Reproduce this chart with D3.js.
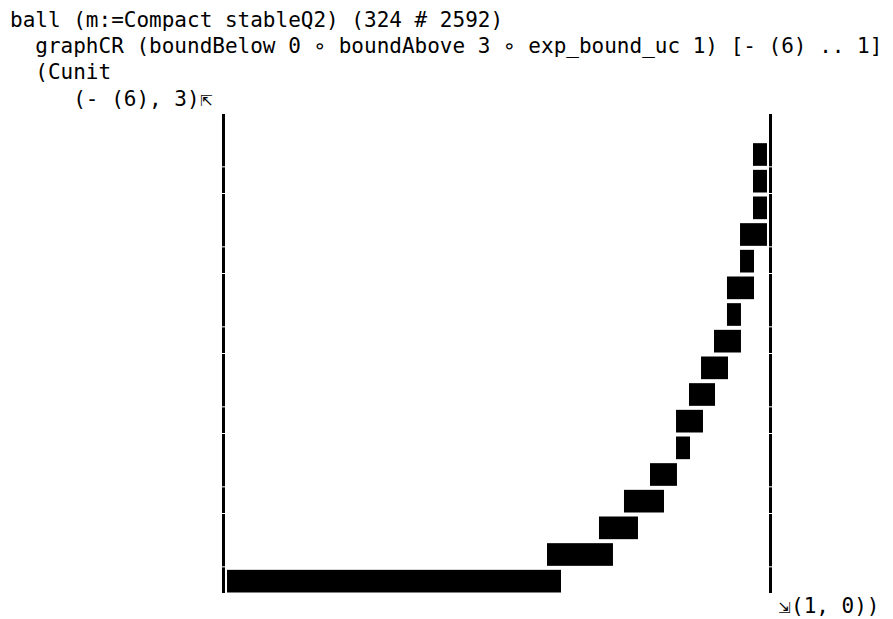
<!DOCTYPE html>
<html>
<head>
<meta charset="utf-8">
<script src="https://cdn.jsdelivr.net/npm/d3@7"></script>
<style>
  body { margin: 0; background: #fff; }
  text { font-family: "DejaVu Sans Mono", monospace; font-size: 21px; fill: #000; white-space: pre; }
  tspan.arrow { font-family: "DejaVu Sans", sans-serif; font-size: 15px; fill: #000; }
</style>
</head>
<body>
<div id="chart"></div>
<script>
// Header lines of the expression that produced the graph
const headerLines = [
    "ball (m:=Compact stableQ2) (324 # 2592)",
    "  graphCR (boundBelow 0 \u2218 boundAbove 3 \u2218 exp_bound_uc 1) [- (6) .. 1]",
    "  (Cunit",
    "     (- (6), 3)"
];
const topArrow = "\u21F1";
const cornerArrow = "\u21F2";
const cornerLabel = "(1, 0))";

// Plot domain
const xDomain = [-6, 1];
const yDomain = [0, 3];

// Rows of the enclosure (bottom to top): y interval and x interval
const rowYLo = [0, 1/6, 2/6, 3/6, 4/6, 5/6, 1, 7/6, 8/6, 9/6, 10/6, 11/6, 2, 13/6, 14/6, 15/6, 16/6];
const rowYHi = [1/6, 2/6, 3/6, 4/6, 5/6, 1, 7/6, 8/6, 9/6, 10/6, 11/6, 2, 13/6, 14/6, 15/6, 16/6, 17/6];
const rowXLo = [-5.955, -1.860, -1.195, -0.875, -0.542, -0.209, -0.209, -0.043, 0.111, 0.277, 0.443, 0.443, 0.610, 0.610, 0.776, 0.776, 0.776];
const rowXHi = [-1.681, -1.016, -0.696, -0.363, -0.197, -0.030, 0.136, 0.290, 0.456, 0.622, 0.622, 0.789, 0.789, 0.955, 0.955, 0.955, 0.955];

// Break points of the two vertical boundary lines
const edgeBreaks = [0, 1/6, 1/2, 2/3, 1, 7/6, 3/2, 5/3, 2, 13/6, 5/2, 8/3, 3];

const width = 893, height = 619;

const svg = d3.select("#chart")
    .append("svg")
    .attr("width", width)
    .attr("height", height);

const x = d3.scaleLinear().domain(xDomain).range([223.5, 770.5]);
const y = d3.scaleLinear().domain(yDomain).range([593, 113]);

// Header text
const header = svg.selectAll("text.header")
    .data(headerLines)
    .enter()
    .append("text")
    .attr("class", "header")
    .attr("x", 10)
    .attr("y", (d, i) => 27 + i * 26.2);
header.append("tspan").text(d => d);
header.filter((d, i) => i === headerLines.length - 1)
    .append("tspan")
    .attr("class", "arrow")
    .attr("x", 200)
    .text(topArrow);

// Vertical boundary lines at x = -6 and x = 1, split into segments
const segs = d3.pairs(edgeBreaks);
[xDomain[0], xDomain[1]].forEach(xv => {
    svg.append("g")
       .selectAll("rect")
       .data(segs)
       .enter()
       .append("rect")
       .attr("x", x(xv) - 1.5)
       .attr("width", 3)
       .attr("y", d => y(d[1]) + 1)
       .attr("height", d => y(d[0]) - y(d[1]) - 1)
       .attr("fill", "#000");
});

// Enclosure boxes
const rows = rowYLo.map((lo, i) => ({ y0: lo, y1: rowYHi[i], x0: rowXLo[i], x1: rowXHi[i] }));
svg.append("g")
   .selectAll("rect")
   .data(rows)
   .enter()
   .append("rect")
   .attr("x", d => x(d.x0))
   .attr("width", d => x(d.x1) - x(d.x0))
   .attr("y", d => y(d.y1) + 3.5)
   .attr("height", d => y(d.y0) - y(d.y1) - 4)
   .attr("fill", "#000");

// Bottom-right corner label
const corner = svg.append("text")
   .attr("y", 613);
corner.append("tspan").attr("class", "arrow").attr("x", 778).text(cornerArrow);
corner.append("tspan").attr("x", 791).text(cornerLabel);
</script>
</body>
</html>
